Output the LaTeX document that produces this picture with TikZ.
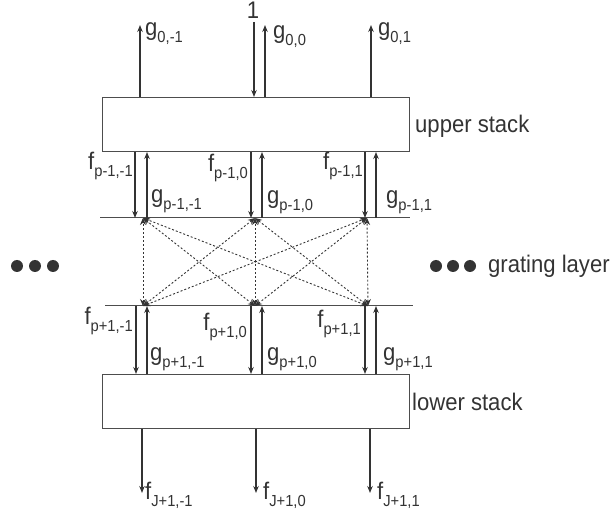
\documentclass[tikz,border=0pt]{standalone}
\usepackage{fontspec}
\setmainfont{Liberation Sans}[FakeStretch=0.92]
\usetikzlibrary{arrows.meta}
\definecolor{GLine}{HTML}{333333}
\definecolor{GBox}{HTML}{4D4D4D}
\newcommand{\amp}[2]{#1\raisebox{-6.5pt}{\fontsize{16}{16}\selectfont #2}}

\begin{document}
\begin{tikzpicture}[x=1pt,y=-1pt,
  flow/.style={GLine,line width=1.1pt,-{Stealth[length=7pt,width=5.5pt]}},
  couple/.style={GLine,line width=0.9pt,dash pattern=on 2pt off 2pt,{Stealth[length=7pt,width=6pt]}-{Stealth[length=7pt,width=6pt]}},
  stack/.style={draw=GBox,line width=1pt,minimum width=307pt,minimum height=54pt,anchor=north west,inner sep=0pt},
  lbl/.style={font=\fontsize{24}{26}\selectfont,inner sep=0pt,text=GLine},
  dot/.style={circle,fill=GLine,minimum size=12pt,inner sep=0pt}]
\useasboundingbox (0,0) rectangle (614,513);
% stacks
\node[stack] (upper) at (102,97) {};
\node[stack] (lower) at (102,374) {};
\node[lbl,anchor=base west] (uname) at (415,133) {upper stack};
\node[lbl,anchor=base west] (lname) at (412,410) {lower stack};
% grating layer boundaries
\coordinate (gl1) at (100,218);
\coordinate (gr1) at (410,218);
\coordinate (gl2) at (105,306);
\coordinate (gr2) at (413,306);
\draw[GBox,line width=1pt] (gl1) -- (gr1);
\draw[GBox,line width=1pt] (gl2) -- (gr2);
\node[dot] (dl1) at (17,266) {};
\node[dot] (dl2) at (35,266) {};
\node[dot] (dl3) at (53,266) {};
\node[dot] (dr1) at (436,266) {};
\node[dot] (dr2) at (453,266) {};
\node[dot] (dr3) at (470,266) {};
\node[lbl,anchor=base west] (gname) at (488,273) {grating layer};
% incident and reflected orders
\node[lbl,anchor=base] (one) at (253,19) {1};
\coordinate (inc) at (254,22);
\draw[flow] (inc) -- (inc |- upper.north);
\foreach \k/\x in {m/140,z/265,p/371}{
  \coordinate (top\k) at (\x,25);
  \draw[flow] (top\k |- upper.north) -- (top\k);
}
\node[lbl,anchor=base west] (g0m) at (145,36) {\amp{g}{0,-1}};
\node[lbl,anchor=base west] (g0z) at (273,39) {\amp{g}{0,0}};
\node[lbl,anchor=base west] (g0p) at (378,36) {\amp{g}{0,1}};
% between upper stack and grating
\foreach \k/\xf/\xg in {m/135/147,z/251/262,p/365/376}{
  \coordinate (fa\k) at (\xf,218);
  \coordinate (ga\k) at (\xg,218);
  \draw[flow] (fa\k |- upper.south) -- (fa\k);
  \draw[flow] (ga\k) -- (ga\k |- upper.south);
}
\node[lbl,anchor=base east] (fum) at (133,170) {\amp{f}{p-1,-1}};
\node[lbl,anchor=base east] (fuz) at (248,172) {\amp{f}{p-1,0}};
\node[lbl,anchor=base east] (fup) at (363,170) {\amp{f}{p-1,1}};
\node[lbl,anchor=base west] (gum) at (151,203) {\amp{g}{p-1,-1}};
\node[lbl,anchor=base west] (guz) at (267,204) {\amp{g}{p-1,0}};
\node[lbl,anchor=base west] (gup) at (386,204) {\amp{g}{p-1,1}};
% coupling inside the grating
\coordinate (am) at (143,218);
\coordinate (az) at (255,218);
\coordinate (ap) at (367,218);
\coordinate (bm) at (143,306);
\coordinate (bz) at (255,306);
\coordinate (bp) at (368,306);
\foreach \i in {m,z,p}
  \foreach \j in {m,z,p}
    \draw[couple] (b\j) -- (a\i);
% between grating and lower stack
\foreach \k/\xf/\xg in {m/136/147,z/251/262,p/365/376}{
  \coordinate (fb\k) at (\xf,306);
  \coordinate (gb\k) at (\xg,306);
  \draw[flow] (fb\k) -- (fb\k |- lower.north);
  \draw[flow] (gb\k |- lower.north) -- (gb\k);
}
\node[lbl,anchor=base east] (flm) at (133,325) {\amp{f}{p+1,-1}};
\node[lbl,anchor=base east] (flz) at (247,331) {\amp{f}{p+1,0}};
\node[lbl,anchor=base east] (flp) at (361,328) {\amp{f}{p+1,1}};
\node[lbl,anchor=base west] (glm) at (150,361) {\amp{g}{p+1,-1}};
\node[lbl,anchor=base west] (glz) at (267,361) {\amp{g}{p+1,0}};
\node[lbl,anchor=base west] (glp) at (383,361) {\amp{g}{p+1,1}};
% transmitted orders
\foreach \k/\x in {m/142,z/256,p/370}{
  \coordinate (out\k) at (\x,493);
  \draw[flow] (out\k |- lower.south) -- (out\k);
}
\node[lbl,anchor=base west] (fJm) at (145,500) {\amp{f}{J+1,-1}};
\node[lbl,anchor=base west] (fJz) at (263,500) {\amp{f}{J+1,0}};
\node[lbl,anchor=base west] (fJp) at (377,500) {\amp{f}{J+1,1}};
\end{tikzpicture}
\end{document}
